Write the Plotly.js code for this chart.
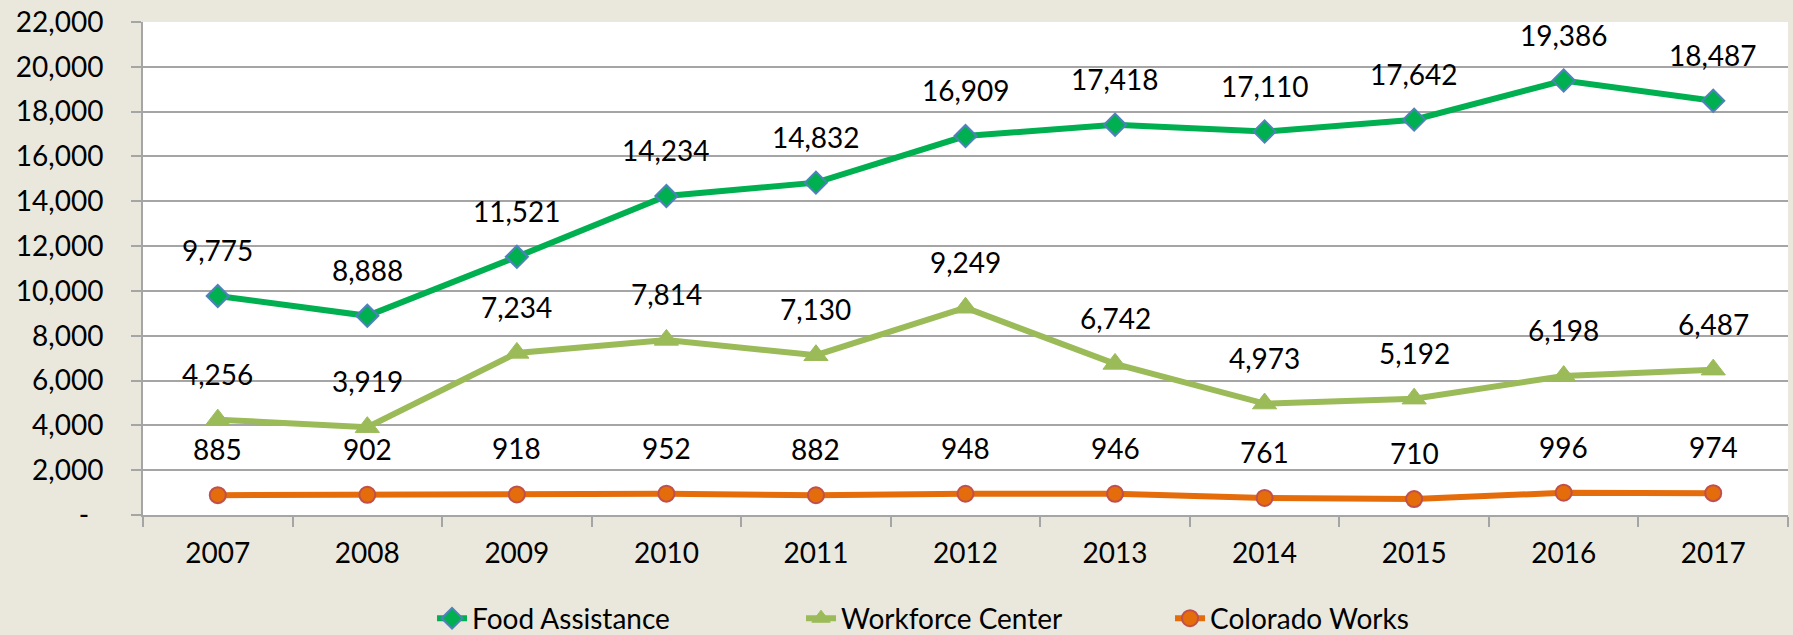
<!DOCTYPE html>
<html>
<head>
<meta charset="utf-8">
<script src="https://cdn.plot.ly/plotly-3.0.1.min.js"></script>
<style>
  html, body { margin: 0; padding: 0; background: #EAE8DC; }
  #chart { width: 1793px; height: 635px; }
</style>
</head>
<body>
<div id="chart"></div>
<script>
const years = ['2007','2008','2009','2010','2011','2012','2013','2014','2015','2016','2017'];
const foodAssistance = [9775, 8888, 11521, 14234, 14832, 16909, 17418, 17110, 17642, 19386, 18487];
const workforceCenter = [4256, 3919, 7234, 7814, 7130, 9249, 6742, 4973, 5192, 6198, 6487];
const coloradoWorks = [885, 902, 918, 952, 882, 948, 946, 761, 710, 996, 974];
const yTickVals = [0, 2000, 4000, 6000, 8000, 10000, 12000, 14000, 16000, 18000, 20000, 22000];
const yTickLabels = ['-\u00A0\u00A0', '2,000', '4,000', '6,000', '8,000', '10,000', '12,000', '14,000', '16,000', '18,000', '20,000', '22,000'];

const FONT = 'Lato, Liberation Sans, Arial, sans-serif';
const GRID = '#A5A5A5';

function fmt(v) { return String(v).replace(/\B(?=(\d{3})+(?!\d))/g, ','); }

const traces = [
  {
    name: 'Food Assistance', x: years, y: foodAssistance, type: 'scatter', mode: 'lines+markers',
    line: { color: '#00B050', width: 6 },
    marker: { symbol: 'diamond', size: 17, color: '#00B050', line: { color: '#4F81BD', width: 2 } }
  },
  {
    name: 'Workforce Center', x: years, y: workforceCenter, type: 'scatter', mode: 'lines+markers',
    line: { color: '#9BBB59', width: 6 },
    marker: { symbol: 'triangle-up', size: 21, color: '#9BBB59', line: { color: '#9BBB59', width: 1 } }
  },
  {
    name: 'Colorado Works', x: years, y: coloradoWorks, type: 'scatter', mode: 'lines+markers',
    line: { color: '#E46C0A', width: 6 },
    marker: { symbol: 'circle', size: 16, color: '#E46C0A', line: { color: '#C0504D', width: 2 } }
  }
];

const annotations = [];
[foodAssistance, workforceCenter, coloradoWorks].forEach(function (series) {
  series.forEach(function (v, i) {
    annotations.push({
      x: i, y: v, xref: 'x', yref: 'y',
      text: fmt(v),
      showarrow: false, yshift: 46, yanchor: 'middle', xanchor: 'center',
      font: { family: FONT, size: 28, color: '#000000' }
    });
  });
});

const layout = {
  width: 1793, height: 635,
  paper_bgcolor: '#EAE8DC',
  plot_bgcolor: '#FFFFFF',
  margin: { l: 143, r: 5, t: 22, b: 120, autoexpand: false },
  font: { family: FONT, size: 28, color: '#000000' },
  showlegend: true,
  legend: {
    orientation: 'h', x: 0.1757, xanchor: 'left', y: -0.21, yanchor: 'middle',
    font: { family: FONT, size: 28, color: '#000000' },
    bgcolor: 'rgba(0,0,0,0)', traceorder: 'normal', entrywidth: 324
  },
  xaxis: {
    type: 'category', range: [-0.5, 10.5],
    showline: true, linecolor: GRID, linewidth: 2,
    ticks: 'outside', tickson: 'boundaries', ticklen: 10, tickcolor: GRID, tickwidth: 2,
    showgrid: false, zeroline: false,
    tickfont: { family: FONT, size: 28, color: '#000000' },
    ticklabelstandoff: 12
  },
  yaxis: {
    range: [0, 22000], tickvals: yTickVals, ticktext: yTickLabels,
    showline: true, linecolor: GRID, linewidth: 2,
    ticks: 'outside', ticklen: 10, tickcolor: GRID, tickwidth: 2,
    showgrid: true, gridcolor: GRID, gridwidth: 2, zeroline: false,
    tickfont: { family: FONT, size: 28, color: '#000000' },
    ticklabelstandoff: 22
  },
  annotations: annotations
};

Plotly.newPlot('chart', traces, layout, { displayModeBar: false, staticPlot: true });
</script>
</body>
</html>
